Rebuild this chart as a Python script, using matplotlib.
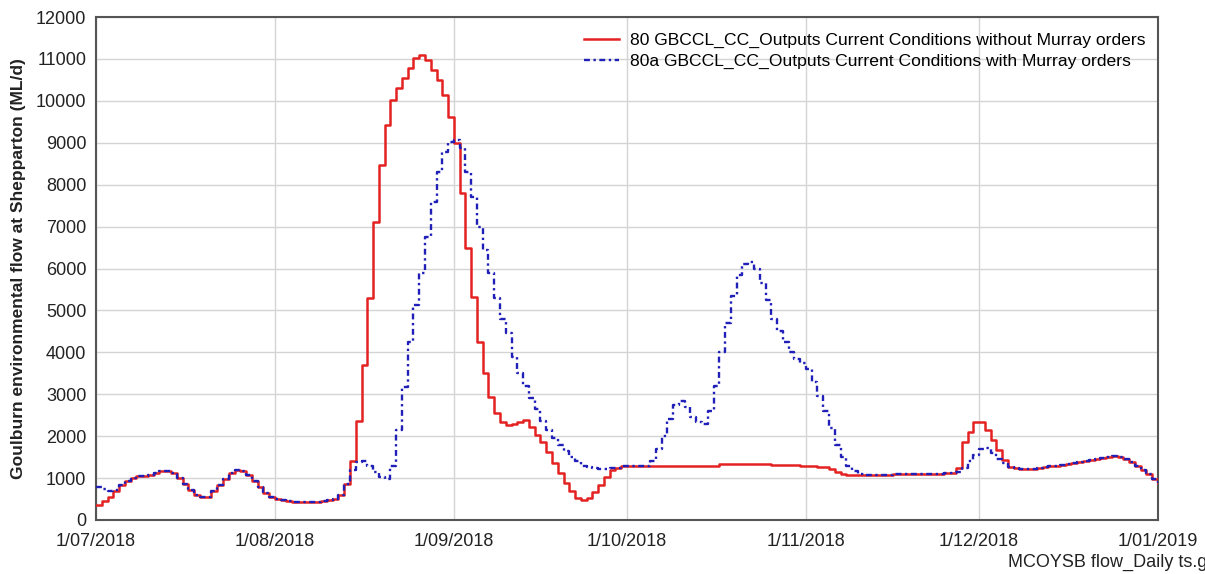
import matplotlib.pyplot as plt
import matplotlib.dates as mdates
import pandas as pd

plt.rcParams['font.family'] = ['Liberation Sans', 'DejaVu Sans']

# daily flows (ML/d), one list per month
red_jul = [360, 450, 550, 680, 830, 930, 1000, 1040, 1060, 1080, 1120, 1160, 1180, 1120, 1000,
           870, 720, 600, 540, 560, 680, 830, 980, 1120, 1190, 1170, 1070, 920, 790, 650, 560]
red_aug = [500, 470, 450, 440, 430, 430, 430, 440, 460, 480, 510, 600, 850, 1400, 2350, 3700,
           5300, 7100, 8470, 9430, 10020, 10310, 10550, 10790, 11020, 11100, 10980, 10740,
           10500, 10140, 9620]
red_sep = [9000, 7800, 6500, 5320, 4250, 3500, 2940, 2550, 2340, 2270, 2300, 2330, 2380, 2220,
           2030, 1850, 1620, 1360, 1120, 880, 680, 520, 480, 520, 670, 830, 1030, 1190, 1250, 1280]
red_oct = [1290, 1290, 1290, 1290, 1290, 1290, 1295, 1300, 1300, 1300, 1300, 1300, 1300, 1300,
           1300, 1300, 1340, 1345, 1345, 1340, 1340, 1335, 1330, 1330, 1325, 1320, 1320, 1315,
           1310, 1305, 1300]
red_nov = [1290, 1280, 1275, 1260, 1220, 1150, 1100, 1080, 1080, 1080, 1080, 1080, 1080, 1085,
           1085, 1090, 1090, 1090, 1095, 1095, 1100, 1100, 1100, 1105, 1110, 1120, 1230, 1870,
           2100, 2330]
red_dec = [2330, 2150, 1900, 1680, 1430, 1260, 1230, 1220, 1210, 1220, 1240, 1260, 1280, 1300,
           1320, 1340, 1360, 1380, 1400, 1430, 1460, 1490, 1510, 1520, 1500, 1450, 1380, 1300,
           1200, 1100, 980]
red_jan = [880]

blue_jul = [790, 730, 680, 720, 830, 930, 1000, 1040, 1060, 1080, 1120, 1160, 1180, 1120, 1000,
            870, 720, 600, 540, 560, 680, 830, 980, 1120, 1190, 1170, 1070, 920, 790, 650, 560]
blue_aug = [500, 470, 450, 440, 430, 430, 430, 440, 460, 480, 510, 600, 850, 1200, 1380, 1400,
            1280, 1150, 1030, 980, 1300, 2150, 3170, 4250, 5130, 5890, 6750, 7590, 8300, 8780, 9020]
blue_sep = [9070, 8880, 8300, 7700, 7000, 6450, 5900, 5300, 4800, 4450, 3900, 3500, 3200, 2900,
            2650, 2350, 2150, 1950, 1800, 1650, 1500, 1400, 1300, 1260, 1230, 1220, 1220, 1240,
            1250, 1280]
blue_oct = [1290, 1290, 1290, 1300, 1400, 1700, 2000, 2400, 2750, 2850, 2700, 2450, 2330, 2300,
            2600, 3200, 4000, 4700, 5350, 5850, 6100, 6150, 6000, 5650, 5250, 4800, 4500, 4250,
            4000, 3850, 3750]
blue_nov = [3600, 3300, 2950, 2600, 2200, 1800, 1500, 1300, 1180, 1100, 1080, 1080, 1080, 1085,
            1085, 1090, 1090, 1090, 1095, 1095, 1100, 1100, 1100, 1105, 1110, 1120, 1150, 1250,
            1400, 1550]
blue_dec = [1700, 1720, 1600, 1450, 1350, 1270, 1230, 1220, 1210, 1220, 1240, 1260, 1280, 1300,
            1320, 1340, 1360, 1380, 1400, 1430, 1460, 1490, 1510, 1520, 1500, 1450, 1380, 1300,
            1200, 1100, 980]
blue_jan = [880]

red = red_jul + red_aug + red_sep + red_oct + red_nov + red_dec + red_jan
blue = blue_jul + blue_aug + blue_sep + blue_oct + blue_nov + blue_dec + blue_jan
days = pd.date_range('2018-07-01', '2019-01-01', freq='D')

red_label = '80 GBCCL_CC_Outputs Current Conditions without Murray orders'
blue_label = '80a GBCCL_CC_Outputs Current Conditions with Murray orders'
y_label = 'Goulburn environmental flow at Shepparton (ML/d)'
footer = 'MCOYSB flow_Daily ts.grf'

fig = plt.figure(figsize=(12.05, 5.74), dpi=100)
ax = fig.add_axes([96 / 1205, 54 / 574, 1062 / 1205, 503 / 574])

ax.plot(days, red, drawstyle='steps-post', color='#e42222', lw=1.8, label=red_label, zorder=3)
ax.plot(days, blue, drawstyle='steps-post', color='#2020b8', lw=1.7,
        linestyle=(0, (2.5, 1.5, 1, 1.5)), label=blue_label, zorder=4)

ax.set_xlim(days[0], days[-1])
ax.set_ylim(0, 12000)
ax.set_yticks(range(0, 12001, 1000))
ax.xaxis.set_major_locator(mdates.MonthLocator())
ax.xaxis.set_major_formatter(mdates.DateFormatter('%-d/%m/%Y'))

ax.grid(True, color='#d4d4d4', lw=1.0)
ax.set_axisbelow(True)
for s in ax.spines.values():
    s.set_color('#555555')
    s.set_linewidth(1.5)
ax.tick_params(length=0, labelsize=13, labelcolor='#222222', pad=7)
ax.tick_params(axis='x', pad=9)
ax.set_ylabel(y_label, fontsize=12.5, fontweight='bold', color='#222222', labelpad=7)

ax.legend(loc='upper right', bbox_to_anchor=(1.003, 1.0), frameon=False, fontsize=12.6,
          handlelength=2.0, handletextpad=0.6, labelspacing=0.3)

# footer runs past the right edge of the figure
fig.text(1008 / 1205, 1 - 562 / 574, footer, fontsize=13, color='#222222', va='center')

fig.savefig('out.png', dpi=100)
